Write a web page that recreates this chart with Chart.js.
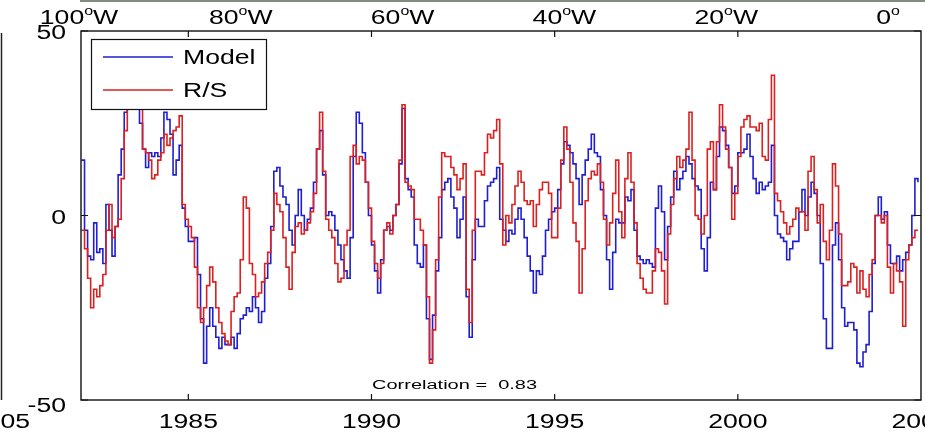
<!DOCTYPE html>
<html>
<head>
<meta charset="utf-8">
<script src="https://cdn.jsdelivr.net/npm/chart.js@4.4.1/dist/chart.umd.min.js"></script>
<style>
  html, body { margin: 0; padding: 0; background: #fff; }
  canvas { display: block; }
</style>
</head>
<body>
<canvas id="chart" width="925" height="433"></canvas>
<script>
// monthly anomalies, Feb 1982 .. Dec 2004
const model = [
  15, -4, -11, -12, -2, -10, -9, -13, 3, -4, -11,             // 1982
  -3, 11, 18, 28, 33, 35, 34, 32, 25, 18, 13, 17,             // 1983
  16, 17, 16, 21, 28, 26, 22, 11, 15, 19, 2, -3,              // 1984
  -7, -7, -6, -16, -28, -40, -30, -25, -30, -33, -36, -33,    // 1985
  -35, -35, -33, -36, -32, -28, -27, -25, -26, -22, -25, -29, // 1986
  -26, -17, -13, -3, 12, 13, 8, 5, 3, -4, -8, 0,              // 1987
  7, 0, -4, -1, 2, 9, 18, 23, 11, 0, 1, 0,                    // 1988
  -4, -8, -12, -15, -17, -6, 16, 28, 25, 17, 9, 0,            // 1989
  -8, -15, -21, -12, -4, -3, -4, 0, 3, 14, 29, 10,            // 1990
  7, 5, -8, -13, -14, -8, -28, -39, -27, -15, -6, 7,          // 1991
  9, 10, 5, 2, -6, -1, 5, -22, -33, -12, -1, -3,              // 1992
  -3, 4, 8, 9, 10, 13, -1, -4, -7, -4, -5, -1,                // 1993
  2, -1, -6, -11, -15, -21, -15, -16, -11, -4, -1, 1,         // 1994
  2, 7, 14, 20, 19, 17, 14, 10, 3, 11, 15, 18,                // 1995
  22, 17, 16, 7, 0, -12, -20, -10, -1, -2, -2, 5,             // 1996
  4, 7, -4, -11, -12, -13, -12, -13, -14, 2, 8, 1,            // 1997
  -12, -3, 5, 12, 7, 10, 12, 16, 14, 10, 8, 7,                // 1998
  -9, -15, -6, 9, 7, 16, 24, 23, 19, 13, 6, 8,                // 1999
  17, 17, 18, 22, 16, 10, 6, 9, 7, 8, 9, 19,                  // 2000
  0, -5, -6, -7, -12, -9, -7, -7, 1, 7, 0, 5,                 // 2001
  9, 6, 0, -13, -28, -36, -36, -8, -2, -12, -25, -30,         // 2002
  -29, -29, -31, -40, -41, -37, -35, -26, -13, 0, 5, -1,      // 2003
  1, -8, -13, -13, -11, -15, -12, -10, -8, 0, 10, 9           // 2004
];

const rs = [
  -4, -9, -17, -25, -20, -22, -19, -16, -4, 3, -6,            // 1982
  -3, -1, 10, 23, 30, 35, 37, 36, 30, 18, 17, 15,             // 1983
  10, 11, 15, 17, 22, 19, 21, 23, 24, 27, 3, -1,              // 1984
  -3, -6, -14, -25, -29, -25, -19, -14, -18, -25, -29, -32,   // 1985
  -34, -35, -26, -22, -21, -12, 5, 2, -13, -16, -22, -21,     // 1986
  -18, -13, -10, -4, 6, 3, 1, -6, -14, -20, -10, -3,          // 1987
  -2, -5, -4, -2, 1, 6, 18, 28, 12, -1, -4, -6,               // 1988
  -13, -18, -17, -8, -4, 16, 19, 14, 16, 15, 9, 2,            // 1989
  -7, -13, -17, -13, -4, -2, -5, 0, 3, 15, 30, 9,             // 1990
  8, 7, -1, -1, -4, -8, -22, -40, -31, -12, 5, 17,            // 1991
  16, 16, 13, 11, 7, 10, 14, -20, -29, -4, 12, 12,            // 1992
  11, 17, 22, 21, 23, 26, 14, -8, 0, -2, 3, 8,                // 1993
  12, 9, 4, 3, 4, -3, 3, 7, 9, 9, 6, -6,                      // 1994
  -6, 2, 15, 24, 18, 9, -2, -7, -21, -9, 4, 10,               // 1995
  12, 11, 14, 9, -1, -8, -2, 6, 15, 1, -6, 10,                // 1996
  17, 9, -2, -13, -17, -20, -21, -21, -15, -9, -10, -15,      // 1997
  -24, -5, 3, 10, 16, 13, 15, 18, 28, 15, 0, -1,              // 1998
  -5, 0, 18, 20, 7, 20, 30, 24, 18, 13, -1, 6,                // 1999
  16, 24, 26, 27, 24, 24, 23, 25, 16, 15, 26, 38,             // 2000
  6, 4, 1, -2, -5, -3, -1, 2, 1, 1, -4, 12,                   // 2001
  16, 7, -2, 3, -7, -12, -4, 14, 8, -5, -19, -19,             // 2002
  -18, -13, -14, -21, -15, -20, -22, -16, -12, 0, 0, -2,      // 2003
  0, -14, -21, -13, -15, -18, -30, -12, -8, -6, -4, -4        // 2004
];

const xTicks = [1985, 1990, 1995, 2000, 2005];
const yTicks = [-50, 0, 50];
const lonLabels = ['100', '80', '60', '40', '20', '0'];
const lonSuffix = ['W', 'W', 'W', 'W', 'W', ''];
const correlation = 'Correlation =  0.83';

// month axis: decimal years
const months = [];
for (let y = 1982; y <= 2004; y++) {
  for (let m = 0; m < 12; m++) {
    if (y === 1982 && m === 0) continue;
    months.push(y + m / 12);
  }
}

const BLUE = '#1e1ed2';
const RED = '#dc2020';
const FONT = '"Liberation Sans", Arial, Helvetica, sans-serif';
const SX = 1.33; // the picture's text is stretched sideways

const stretchText = (ctx, text, x, y, align, size, sx) => {
  ctx.save();
  ctx.font = `${size}px ${FONT}`;
  ctx.translate(x, y);
  ctx.scale(sx || SX, 1);
  ctx.textAlign = align;
  ctx.textBaseline = 'alphabetic';
  ctx.fillText(text, 0, 0);
  ctx.restore();
};

const textWidth = (ctx, text, size) => {
  ctx.font = `${size}px ${FONT}`;
  return ctx.measureText(text).width * SX;
};

const matlabFrame = {
  id: 'matlabFrame',
  afterDraw: (chart) => {
    const { ctx, chartArea: a, scales } = chart;
    const x = scales.x;
    const y = scales.y;
    ctx.save();

    // legend box (opaque, sits over the lines)
    ctx.fillStyle = '#fff';
    ctx.fillRect(91, 39, 175, 70);
    ctx.strokeStyle = '#111';
    ctx.lineWidth = 1.2;
    ctx.strokeRect(91.5, 39.5, 175, 70);
    ctx.lineWidth = 1.4;
    ctx.strokeStyle = BLUE;
    ctx.beginPath(); ctx.moveTo(103, 57); ctx.lineTo(173, 57); ctx.stroke();
    ctx.strokeStyle = RED;
    ctx.beginPath(); ctx.moveTo(103, 90); ctx.lineTo(173, 90); ctx.stroke();
    ctx.fillStyle = '#000';
    stretchText(ctx, 'Model', 183, 64, 'left', 20);
    stretchText(ctx, 'R/S', 183, 97, 'left', 20);

    // axes box
    ctx.strokeStyle = '#111';
    ctx.lineWidth = 1.4;
    ctx.strokeRect(a.left, a.top, a.right - a.left, a.bottom - a.top);

    // inward ticks
    ctx.lineWidth = 1.2;
    ctx.beginPath();
    xTicks.forEach((t) => {
      const px = x.getPixelForValue(t);
      if (px >= a.right - 1) return;
      ctx.moveTo(px, a.bottom); ctx.lineTo(px, a.bottom - 6);
      ctx.moveTo(px, a.top); ctx.lineTo(px, a.top + 6);
    });
    yTicks.forEach((t) => {
      const py = y.getPixelForValue(t);
      ctx.moveTo(a.left, py); ctx.lineTo(a.left + 7, py);
      ctx.moveTo(a.right, py); ctx.lineTo(a.right - 7, py);
    });
    ctx.stroke();

    // tick labels
    xTicks.forEach((t) => {
      stretchText(ctx, String(t), x.getPixelForValue(t), 428, 'center', 20);
    });
    yTicks.forEach((t) => {
      const py = y.getPixelForValue(t);
      stretchText(ctx, String(t), 66, py + 8 + (t < 0 ? 4 : 0), 'right', 20);
    });

    // neighbouring panel remnants
    stretchText(ctx, '2005', 30, 428, 'right', 20);
    ctx.strokeStyle = '#222';
    ctx.lineWidth = 1.5;
    ctx.beginPath(); ctx.moveTo(1.5, a.top + 2); ctx.lineTo(1.5, a.bottom); ctx.stroke();
    ctx.strokeStyle = '#7f8c7f';
    ctx.lineWidth = 2;
    ctx.beginPath(); ctx.moveTo(80, 1); ctx.lineTo(925, 1); ctx.stroke();

    // longitude labels along the top
    lonLabels.forEach((lab, i) => {
      const cx = 79 + i * 161.8;
      const wNum = textWidth(ctx, lab, 20);
      const wO = textWidth(ctx, 'o', 12);
      const wSuf = lonSuffix[i] ? textWidth(ctx, lonSuffix[i], 20) : 0;
      let left = cx - (wNum + wO + wSuf) / 2;
      stretchText(ctx, lab, left, 24, 'left', 20);
      left += wNum;
      stretchText(ctx, 'o', left, 15, 'left', 12);
      left += wO;
      if (lonSuffix[i]) stretchText(ctx, lonSuffix[i], left, 24, 'left', 20);
    });

    // correlation note
    stretchText(ctx, correlation, 372, 389, 'left', 12.5, 1.6);
    ctx.restore();
  }
};

const toPoints = (vals) => months.map((t, i) => ({ x: t, y: vals[i] }));

new Chart(document.querySelector('#chart'), {
  type: 'line',
  data: {
    datasets: [
      {
        label: 'Model',
        data: toPoints(model),
        borderColor: BLUE,
        borderWidth: 1.6,
        pointRadius: 0,
        stepped: true,
        order: 2
      },
      {
        label: 'R/S',
        data: toPoints(rs),
        borderColor: RED,
        borderWidth: 1.6,
        pointRadius: 0,
        stepped: true,
        order: 1
      }
    ]
  },
  options: {
    responsive: false,
    animation: false,
    devicePixelRatio: 1,
    layout: { padding: { left: 81, top: 31, right: 4, bottom: 33 } },
    scales: {
      x: { type: 'linear', min: 1982.07, max: 2005, display: false },
      y: { type: 'linear', min: -50, max: 50, display: false }
    },
    plugins: {
      legend: { display: false },
      tooltip: { enabled: false }
    }
  },
  plugins: [matlabFrame]
});
</script>
</body>
</html>
